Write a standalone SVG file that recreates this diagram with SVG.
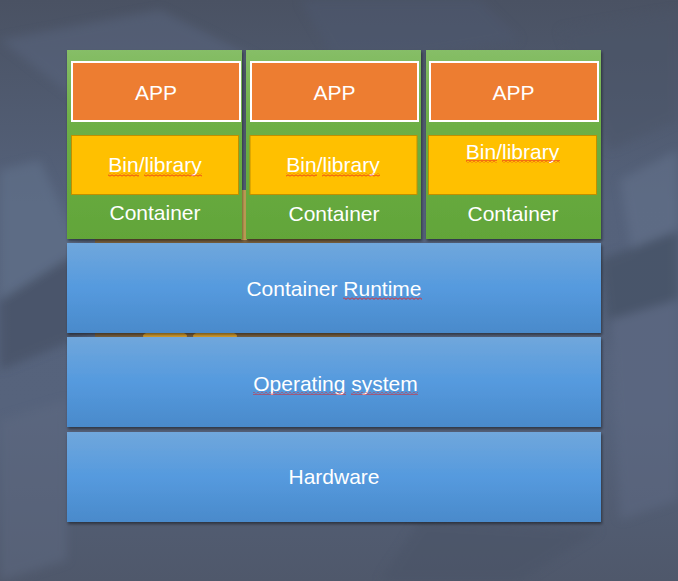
<svg xmlns="http://www.w3.org/2000/svg" width="678" height="581" viewBox="0 0 678 581">
  <defs>
    <linearGradient id="bg" x1="0" y1="0" x2="0" y2="1">
      <stop offset="0" stop-color="#4a5263"/>
      <stop offset="0.35" stop-color="#55627b"/>
      <stop offset="0.7" stop-color="#56637c"/>
      <stop offset="1" stop-color="#4f586b"/>
    </linearGradient>
    <linearGradient id="green" x1="0" y1="0" x2="0" y2="1">
      <stop offset="0" stop-color="#86be67"/>
      <stop offset="0.4" stop-color="#6daf45"/>
      <stop offset="1" stop-color="#62a539"/>
    </linearGradient>
    <linearGradient id="blue" x1="0" y1="0" x2="0" y2="1">
      <stop offset="0" stop-color="#70a7dc"/>
      <stop offset="0.5" stop-color="#559ade"/>
      <stop offset="1" stop-color="#4a8acb"/>
    </linearGradient>
    <filter id="shadow" x="-5%" y="-10%" width="110%" height="125%">
      <feDropShadow dx="1" dy="2" stdDeviation="1.5" flood-color="#000" flood-opacity="0.45"/>
    </filter>
    <filter id="soft" x="-10%" y="-10%" width="120%" height="120%">
      <feGaussianBlur stdDeviation="5"/>
    </filter>
    <pattern id="squig" width="4" height="3" patternUnits="userSpaceOnUse">
      <path d="M0 0.5 L2 2.5 L4 0.5" fill="none" stroke="#e82020" stroke-width="1"/>
    </pattern>
  </defs>
  <style>
    .lbl { font-family: "Liberation Sans", Arial, sans-serif; font-size: 21px; fill: #ffffff; text-anchor: middle; }
    .cont { fill: url(#green); filter: url(#shadow); }
    .app { fill: #ed7d31; stroke: #ffffff; stroke-width: 2; }
    .bin { fill: #ffc000; stroke: #c09000; stroke-width: 1; }
    .layer { fill: url(#blue); filter: url(#shadow); }
    .sq { fill: url(#squig); }
  </style>

  <!-- background -->
  <rect x="0" y="0" width="678" height="581" fill="url(#bg)"/>
  <g opacity="0.5" filter="url(#soft)">
    <polygon points="0,40 160,10 260,60 90,110" fill="#5a6680"/>
    <polygon points="300,0 480,0 520,40 340,70" fill="#4e5870"/>
    <polygon points="560,30 678,10 678,120 610,150" fill="#4b5468"/>
    <polygon points="0,170 40,160 80,250 0,300" fill="#65768f"/>
    <polygon points="0,300 80,250 100,330 0,370" fill="#3f4a5c"/>
    <polygon points="620,180 678,150 678,260 640,300" fill="#66748e"/>
    <polygon points="600,260 678,230 678,330 610,350" fill="#3e485a"/>
    <polygon points="610,320 678,300 678,500 620,520" fill="#5e6b84"/>
    <polygon points="0,420 67,400 67,560 0,581" fill="#5e6a82"/>
    <polygon points="420,520 600,530 520,581 380,581" fill="#4a5366"/>
  </g>
  <polygon points="95,225 350,225 350,345 95,345" fill="#7a6140"/>
  <ellipse cx="165" cy="336" rx="22" ry="6" fill="#d8a030"/>
  <ellipse cx="215" cy="336" rx="22" ry="6" fill="#d8a030"/>
  <rect x="241" y="190" width="6" height="50" fill="#c8a658"/>

  <!-- containers -->
  <g id="container1">
    <rect class="cont" x="67" y="50" width="175" height="189"/>
    <rect class="app" x="72" y="62" width="168" height="59"/>
    <text class="lbl" x="156" y="100">APP</text>
    <rect class="bin" x="71.5" y="135.5" width="167" height="59"/>
    <text class="lbl" x="155" y="172">Bin/library</text>
    <rect class="sq" x="108" y="173.5" width="31" height="3"/>
    <rect class="sq" x="144" y="173.5" width="58" height="3"/>
    <text class="lbl" x="155" y="220">Container</text>
  </g>
  <g id="container2">
    <rect class="cont" x="246" y="50" width="175" height="189"/>
    <rect class="app" x="251" y="62" width="167" height="59"/>
    <text class="lbl" x="334.5" y="100">APP</text>
    <rect class="bin" x="250" y="135.5" width="167" height="59"/>
    <text class="lbl" x="333" y="172">Bin/library</text>
    <rect class="sq" x="286" y="173.5" width="31" height="3"/>
    <rect class="sq" x="322" y="173.5" width="58" height="3"/>
    <text class="lbl" x="334" y="221">Container</text>
  </g>
  <g id="container3">
    <rect class="cont" x="426" y="50" width="175" height="189"/>
    <rect class="app" x="430" y="62" width="168" height="59"/>
    <text class="lbl" x="513.5" y="100">APP</text>
    <rect class="bin" x="428.5" y="135.5" width="168" height="59"/>
    <text class="lbl" x="512.5" y="158.5">Bin/library</text>
    <rect class="sq" x="466" y="160" width="31" height="3"/>
    <rect class="sq" x="502" y="160" width="58" height="3"/>
    <text class="lbl" x="513" y="221">Container</text>
  </g>

  <!-- layers -->
  <g id="runtime">
    <rect class="layer" x="67" y="243" width="534" height="90"/>
    <text class="lbl" x="334" y="296">Container Runtime</text>
    <rect class="sq" x="343" y="297" width="79" height="3"/>
  </g>
  <g id="os">
    <rect class="layer" x="67" y="337" width="534" height="90"/>
    <text class="lbl" x="335.5" y="391">Operating system</text>
    <rect class="sq" x="253" y="392" width="93" height="3"/>
    <rect class="sq" x="351" y="392" width="67" height="3"/>
  </g>
  <g id="hardware">
    <rect class="layer" x="67" y="432" width="534" height="90"/>
    <text class="lbl" x="334" y="484">Hardware</text>
  </g>
  <g id="connectors"/>
</svg>
